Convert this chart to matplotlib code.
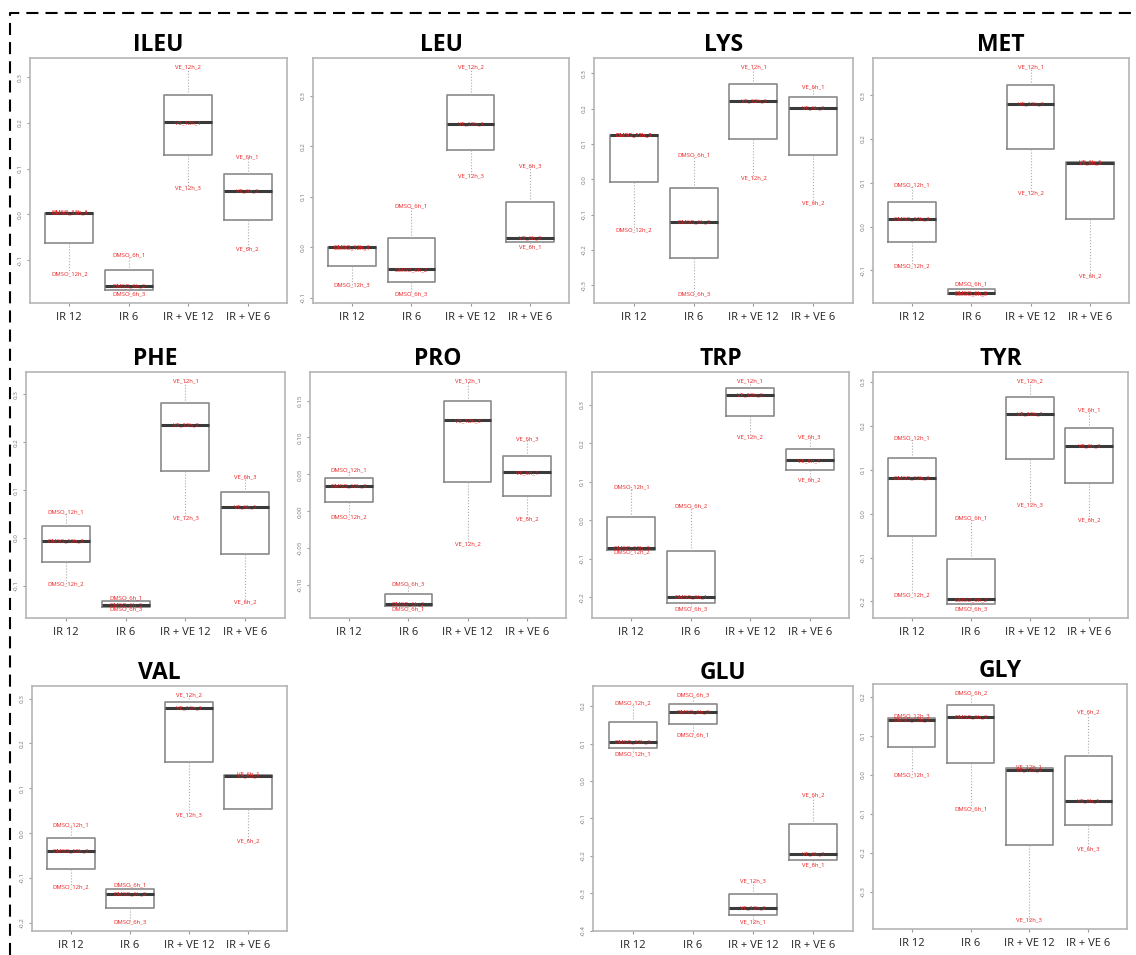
import matplotlib
matplotlib.use('Agg')
import matplotlib.pyplot as plt
from matplotlib.lines import Line2D
from matplotlib.ticker import MultipleLocator, FormatStrFormatter

plt.rcParams['font.family'] = ['Open Sans', 'DejaVu Sans']

# groups on the x axis and the sample name prefix of each group
GROUPS = ['IR 12', 'IR 6', 'IR + VE 12', 'IR + VE 6']
PREFIX = ['DMSO_12h_', 'DMSO_6h_', 'VE_12h_', 'VE_6h_']

# values, one list of 3 replicates per group
ILEU = [[0.005, 0.003, -0.129], [-0.089, -0.156, -0.174], [0.322, 0.201, 0.058], [0.126, 0.051, -0.076]]
LEU = [[0.002, 0.000, -0.0745], [0.082, -0.0435, -0.092], [0.357, 0.245, 0.142], [0.1615, 0.0185, 0.0013]]
LYS = [[0.126, 0.125, -0.143], [0.068, -0.120, -0.325], [0.318, 0.2215, 0.005], [0.263, 0.203, -0.067]]
MET = [[0.0957, 0.0175, -0.089], [-0.1306, -0.152, -0.1535], [0.364, 0.280, 0.076], [0.148, 0.146, -0.1125]]
PHE = [[0.054, -0.0056, -0.095], [-0.124, -0.140, -0.148], [0.3275, 0.2355, 0.0425], [0.1275, 0.0655, -0.133]]
PRO = [[0.0568, 0.0345, -0.0082], [-0.099, -0.125, -0.1323], [0.1764, 0.1232, -0.0445], [0.098, 0.0527, -0.010]]
TRP = [[0.0878, -0.072, -0.081], [0.038, -0.200, -0.2304], [0.3617, 0.326, 0.2165], [0.2165, 0.1557, 0.1052]]
TYR = [[0.172, 0.0822, -0.185], [-0.009, -0.1956, -0.217], [0.302, 0.228, 0.0205], [0.237, 0.1537, -0.013]]
VAL = [[0.0186, -0.0387, -0.119], [-0.116, -0.135, -0.198], [0.308, 0.279, 0.040], [0.133, 0.127, -0.018]]
GLU = [[0.208, 0.105, 0.072], [0.2293, 0.184, 0.1227], [-0.2667, -0.3378, -0.376], [-0.0373, -0.1947, -0.225]]
GLY = [[0.151, 0.142, 0.000], [0.210, 0.1496, -0.0872], [0.020, 0.0137, -0.372], [0.1624, -0.0667, -0.190]]

# replicate number attached to each value above
ILEU_rep = [[3, 1, 2], [1, 2, 3], [2, 1, 3], [1, 3, 2]]
LEU_rep = [[2, 1, 3], [1, 2, 3], [2, 1, 3], [3, 2, 1]]
LYS_rep = [[3, 1, 2], [1, 2, 3], [1, 3, 2], [1, 3, 2]]
MET_rep = [[1, 3, 2], [1, 2, 3], [1, 3, 2], [1, 3, 2]]
PHE_rep = [[1, 3, 2], [1, 2, 3], [1, 2, 3], [3, 1, 2]]
PRO_rep = [[1, 3, 2], [3, 2, 1], [1, 3, 2], [3, 1, 2]]
TRP_rep = [[1, 3, 2], [2, 1, 3], [1, 3, 2], [3, 1, 2]]
TYR_rep = [[1, 3, 2], [1, 2, 3], [2, 1, 3], [1, 3, 2]]
VAL_rep = [[1, 3, 2], [1, 2, 3], [2, 1, 3], [1, 3, 2]]
GLU_rep = [[2, 3, 1], [3, 2, 1], [3, 2, 1], [2, 3, 1]]
GLY_rep = [[3, 2, 1], [2, 3, 1], [1, 2, 3], [2, 1, 3]]

# panel: title, data, replicates, tick step, axes box in pixels (left, top, right, bottom)
panels = [
    ('ILEU', ILEU, ILEU_rep, 0.1, (30, 58, 287, 303)),
    ('LEU', LEU, LEU_rep, 0.1, (313, 58, 569, 303)),
    ('LYS', LYS, LYS_rep, 0.1, (594, 58, 853, 303)),
    ('MET', MET, MET_rep, 0.1, (873, 58, 1129, 303)),
    ('PHE', PHE, PHE_rep, 0.1, (26, 372, 285, 618)),
    ('PRO', PRO, PRO_rep, 0.05, (310, 372, 566, 618)),
    ('TRP', TRP, TRP_rep, 0.1, (592, 372, 849, 618)),
    ('TYR', TYR, TYR_rep, 0.1, (873, 372, 1128, 618)),
    ('VAL', VAL, VAL_rep, 0.1, (32, 686, 287, 931)),
    ('GLU', GLU, GLU_rep, 0.1, (593, 686, 853, 931)),
    ('GLY', GLY, GLY_rep, 0.1, (873, 684, 1127, 929)),
]

W, H = 1136, 955
fig = plt.figure(figsize=(W / 100, H / 100), dpi=100)

for title, data, reps, step, (l, t, r, b) in panels:
    ax = fig.add_axes([l / W, 1 - b / H, (r - l) / W, (b - t) / H])
    ax.boxplot(data, positions=[1, 2, 3, 4], widths=0.8, whis=(0, 100),
               showcaps=False, showfliers=False, patch_artist=False,
               boxprops=dict(color='#8a8a8a', lw=1.2),
               whiskerprops=dict(color='#aaaaaa', lw=0.8, ls=':'),
               medianprops=dict(color='#3a3a3a', lw=2.2))
    for i, (vals, rr) in enumerate(zip(data, reps)):
        for v, k in zip(vals, rr):
            ax.text(i + 1, v, PREFIX[i] + str(k), color='#ee1c1c', fontsize=4.2,
                    ha='center', va='center')
    lo = min(min(g) for g in data)
    hi = max(max(g) for g in data)
    pad = (hi - lo) * 0.04
    ax.set_ylim(lo - pad, hi + pad)
    ax.set_xlim(0.34, 4.66)
    ax.set_xticks([1, 2, 3, 4])
    ax.set_xticklabels(GROUPS, fontsize=8, color='#222222')
    ax.yaxis.set_major_locator(MultipleLocator(step))
    ax.yaxis.set_major_formatter(FormatStrFormatter('%.2f' if step < 0.1 else '%.1f'))
    ax.tick_params(axis='y', labelsize=4.5, labelcolor='#777777', color='#999999',
                   length=2.5, width=0.8, pad=3, labelrotation=90)
    for lab in ax.get_yticklabels():
        lab.set_va('center')
    ax.tick_params(axis='x', color='#999999', length=2.5, width=0.8, pad=4)
    for s in ax.spines.values():
        s.set_color('#b5b5b5')
        s.set_linewidth(1.2)
    ax.set_title(title, fontsize=16.5, fontweight='bold', pad=5)

# dashed frame along the top and left edge
x0 = 10 / W
y1 = 1 - 13 / H
fig.add_artist(Line2D([x0, x0, 1.0], [0.0, y1, y1], transform=fig.transFigure,
                      color='black', lw=1.5, ls=(0, (5.8, 3.4))))

fig.savefig('out.png', dpi=100, facecolor='white')
